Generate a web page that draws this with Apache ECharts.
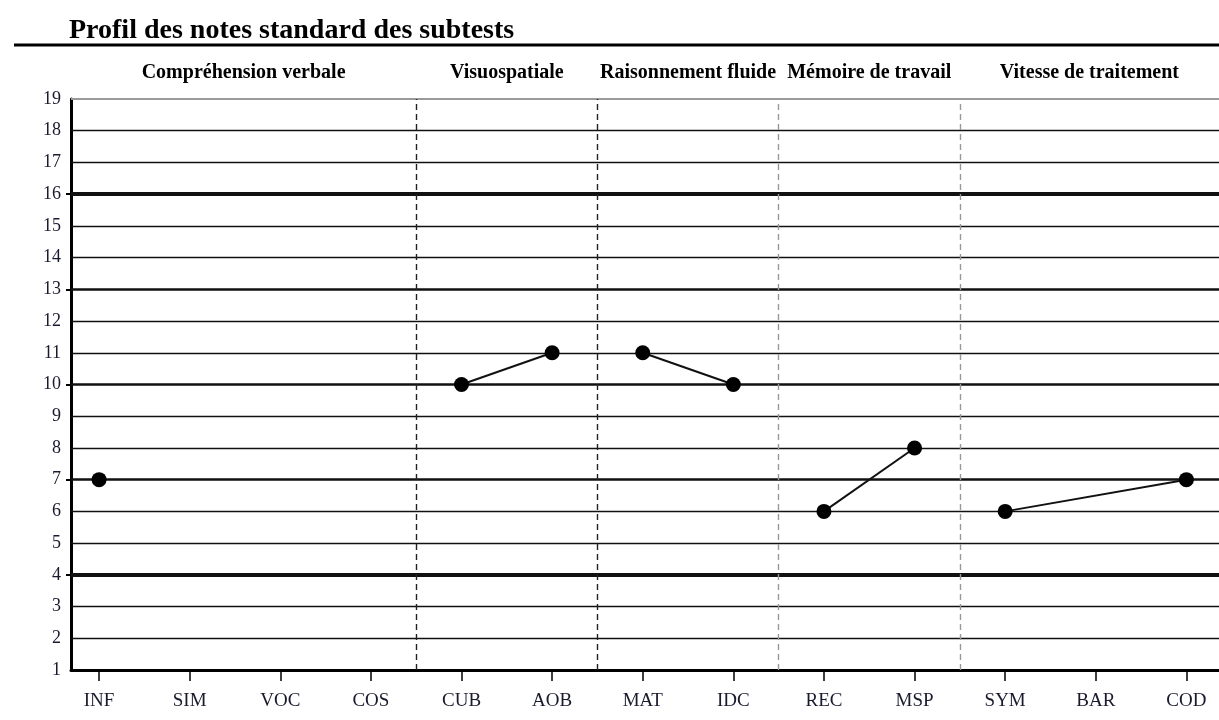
<!DOCTYPE html>
<html>
<head>
<meta charset="utf-8">
<script src="https://cdn.jsdelivr.net/npm/echarts@6/dist/echarts.min.js"></script>
<style>html,body{margin:0;padding:0;background:#fff;}#c{width:1219px;height:720px;}</style>
</head>
<body>
<div id="c"></div>
<script>
// ---- data ----
const titleText = 'Profil des notes standard des subtests';
const categories = ['INF','SIM','VOC','COS','CUB','AOB','MAT','IDC','REC','MSP','SYM','BAR','COD'];
const scores = [7, null, null, null, 10, 11, 11, 10, 6, 8, 6, null, 7];
const groupNames = ['Compréhension verbale','Visuospatiale','Raisonnement fluide','Mémoire de travail','Vitesse de traitement'];
const groupStart = [0, 4, 6, 8, 10];
const groupEnd = [3, 5, 7, 9, 12];
const dividers = [3.5, 5.5, 7.5, 9.5];
const dividerColors = ['#222', '#222', '#999', '#999'];
const yTicks = [1,2,3,4,5,6,7,8,9,10,11,12,13,14,15,16,17,18,19];
const thickLines = [4, 16];
const mediumLines = [7, 10, 13];
const xMin = -0.31, xMax = 12.36;

const FONT = "'Liberation Serif','DejaVu Serif',serif";
const chart = echarts.init(document.getElementById('c'), null, {renderer: 'canvas'});

const hLines = yTicks.map(v => {
  let w = 1.3, col = '#111';
  if (thickLines.includes(v)) w = 4;
  else if (mediumLines.includes(v)) w = 2.6;
  if (v === 19) { col = '#9a9a9a'; w = 2; }
  if (v === 1) { w = 0; }
  return {yAxis: v, lineStyle: {width: w, color: col, type: 'solid'}};
});
const vLines = dividers.map((d, i) => ({xAxis: d, lineStyle: {width: 1.4, color: dividerColors[i], type: [6, 4]}}));

const series = [{
  type: 'line', name: 'grid', data: [], z: 1, silent: true,
  markLine: {silent: true, symbol: ['none','none'], label: {show: false}, animation: false,
    data: hLines.concat(vLines)}
}];
groupStart.forEach((s, g) => {
  const pts = [];
  for (let i = s; i <= groupEnd[g]; i++) pts.push([i, scores[i]]);
  series.push({
    type: 'line', name: groupNames[g], data: pts, z: 5, connectNulls: true,
    symbol: 'circle', symbolSize: 15, showSymbol: true,
    itemStyle: {color: '#000'}, lineStyle: {color: '#111', width: 2}, animation: false
  });
});

chart.setOption({
  animation: false,
  backgroundColor: '#fff',
  title: {text: titleText, left: 64, top: 12,
    textStyle: {fontFamily: FONT, fontWeight: 'bold', fontSize: 28, color: '#000'}},
  grid: {left: 71, right: 0, top: 99, bottom: 50, containLabel: false},
  xAxis: {type: 'value', min: xMin, max: xMax,
    axisLine: {show: true, onZero: false, lineStyle: {color: '#000', width: 3}},
    axisTick: {show: true, customValues: categories.map((c, i) => i), length: 11, lineStyle: {color: '#000', width: 1.5}},
    axisLabel: {customValues: categories.map((c, i) => i), formatter: v => categories[Math.round(v)],
      fontFamily: FONT, fontSize: 19, color: '#1a1a2e', margin: 22},
    splitLine: {show: false}},
  yAxis: {type: 'value', min: 1, max: 19, interval: 1,
    axisLine: {show: true, onZero: false, lineStyle: {color: '#000', width: 3}},
    axisTick: {show: true, customValues: [4, 7, 10, 13, 16], length: 5, lineStyle: {color: '#000', width: 2}},
    axisLabel: {fontFamily: FONT, fontSize: 18, color: '#1a1a2e', margin: 10},
    splitLine: {show: false}},
  series: series
});

// header labels centred in each group region, positions from the axis scale
const bounds = [xMin].concat(dividers).concat([xMax]);
const graphics = [{type: 'line', shape: {x1: 14, y1: 45, x2: 1219, y2: 45}, style: {stroke: '#000', lineWidth: 3}}];
groupNames.forEach((n, g) => {
  const a = chart.convertToPixel({xAxisIndex: 0}, bounds[g]);
  const b = chart.convertToPixel({xAxisIndex: 0}, bounds[g + 1]);
  graphics.push({type: 'text', x: (a + b) / 2, y: 73,
    style: {text: n, font: "bold 20px 'Liberation Serif', serif", fill: '#000', align: 'center', verticalAlign: 'middle'}});
});
chart.setOption({graphic: graphics});
</script>
</body>
</html>
